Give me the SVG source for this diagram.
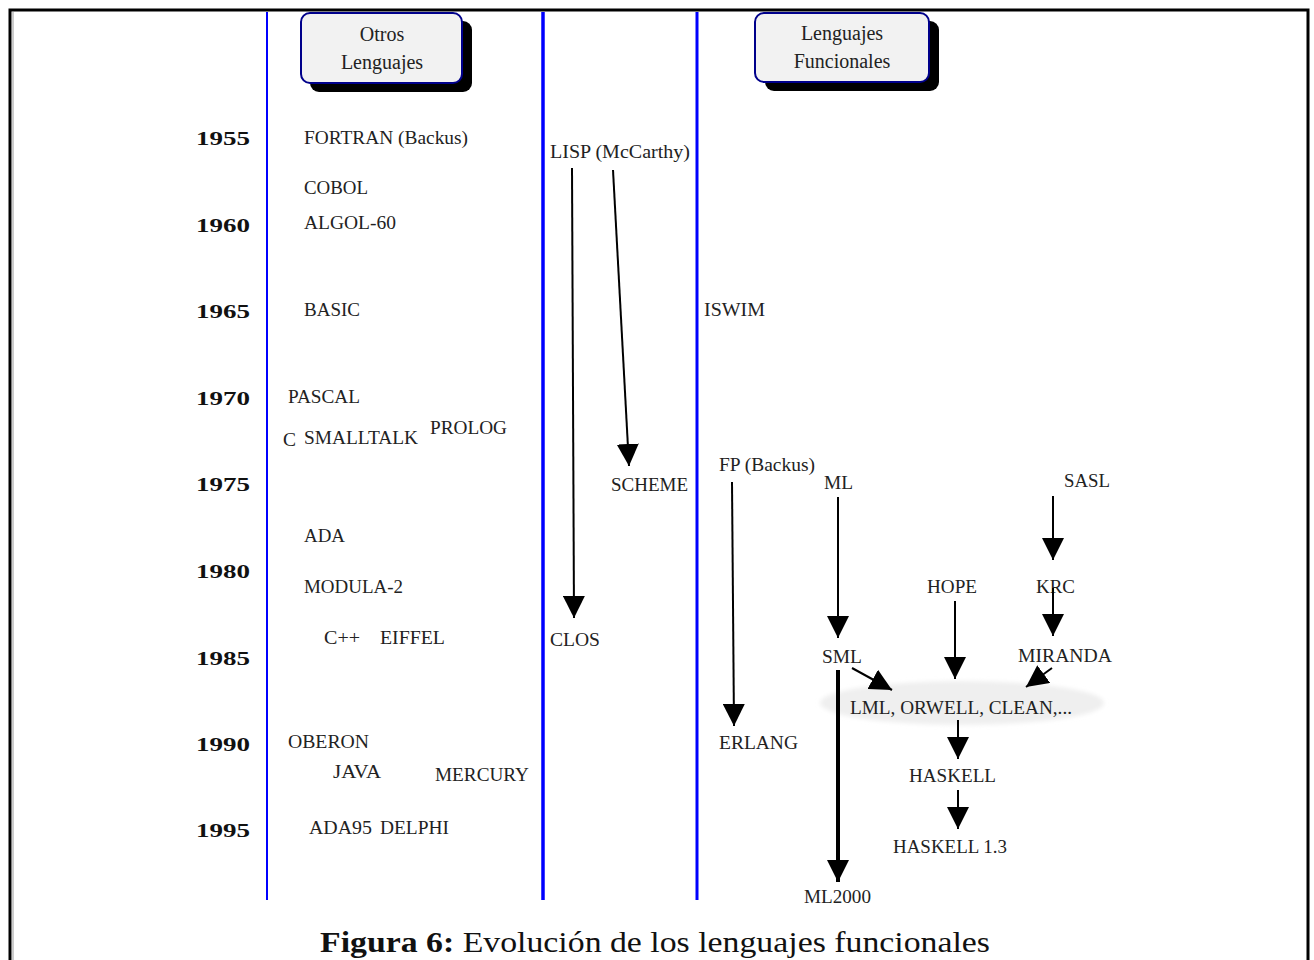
<svg xmlns="http://www.w3.org/2000/svg" width="1314" height="960" viewBox="0 0 1314 960">
<style>
.lbl{font-family:"Liberation Serif","Times New Roman",serif;font-size:18px;fill:#222}
.yr{font-family:"Liberation Serif","Times New Roman",serif;font-size:19px;font-weight:bold;fill:#111}
.hdr{font-family:"Liberation Serif","Times New Roman",serif;font-size:20px;fill:#222;text-anchor:middle}
.cap{font-family:"Liberation Serif","Times New Roman",serif;font-size:30px;fill:#111}
.blue{stroke:#0000ff;fill:none}
.arr{stroke:#000;stroke-width:2;fill:none;marker-end:url(#ah)}
.thick{stroke-width:4}
.box{fill:#f2f2f2;stroke:#00008b;stroke-width:2}
.shadow{fill:#000}
</style>
<defs>
<marker id="ah" viewBox="0 0 22 22" refX="22" refY="11" markerWidth="22" markerHeight="22" markerUnits="userSpaceOnUse" orient="auto">
<path d="M0,0 L22,11 L0,22 z" fill="#000"/>
</marker>
<filter id="blur" x="-10%" y="-50%" width="120%" height="200%"><feGaussianBlur stdDeviation="2"/></filter>
</defs>
<rect width="1314" height="960" fill="#fff"/>
<g id="frame">
<path d="M10,975 L10,10 L1308,10 L1308,975" fill="none" stroke="#000" stroke-width="3"/>
<line x1="13" y1="12" x2="13" y2="975" stroke="#999" stroke-width="1"/>
</g>
<g id="columns">
<line class="blue" x1="267" y1="12" x2="267" y2="900" stroke-width="2"/>
<line class="blue" x1="543" y1="12" x2="543" y2="900" stroke-width="3.5"/>
<line class="blue" x1="697" y1="12" x2="697" y2="900" stroke-width="3"/>
</g>
<g id="hdr-otros">
<rect class="shadow" x="310" y="21" width="162" height="71" rx="9"/>
<rect class="box" x="301" y="13" width="161" height="70" rx="9"/>
<text class="hdr" x="382" y="41">Otros</text>
<text class="hdr" x="382" y="69">Lenguajes</text>
</g>
<g id="hdr-func">
<rect class="shadow" x="765" y="21" width="174" height="70" rx="9"/>
<rect class="box" x="755" y="13" width="174" height="69" rx="9"/>
<text class="hdr" x="842" y="40">Lenguajes</text>
<text class="hdr" x="842" y="68">Funcionales</text>
</g>
<g id="years">
<text class="yr" x="196" y="145" textLength="54" lengthAdjust="spacingAndGlyphs">1955</text>
<text class="yr" x="196" y="232" textLength="54" lengthAdjust="spacingAndGlyphs">1960</text>
<text class="yr" x="196" y="318" textLength="54" lengthAdjust="spacingAndGlyphs">1965</text>
<text class="yr" x="196" y="405" textLength="54" lengthAdjust="spacingAndGlyphs">1970</text>
<text class="yr" x="196" y="491" textLength="54" lengthAdjust="spacingAndGlyphs">1975</text>
<text class="yr" x="196" y="578" textLength="54" lengthAdjust="spacingAndGlyphs">1980</text>
<text class="yr" x="196" y="665" textLength="54" lengthAdjust="spacingAndGlyphs">1985</text>
<text class="yr" x="196" y="751" textLength="54" lengthAdjust="spacingAndGlyphs">1990</text>
<text class="yr" x="196" y="837" textLength="54" lengthAdjust="spacingAndGlyphs">1995</text>
</g>
<g id="otros">
<g id="n-fortran"><text class="lbl" x="304" y="144" textLength="164" lengthAdjust="spacingAndGlyphs">FORTRAN (Backus)</text></g>
<g id="n-cobol"><text class="lbl" x="304" y="194" textLength="64" lengthAdjust="spacingAndGlyphs">COBOL</text></g>
<g id="n-algol"><text class="lbl" x="304" y="229" textLength="92" lengthAdjust="spacingAndGlyphs">ALGOL-60</text></g>
<g id="n-basic"><text class="lbl" x="304" y="316" textLength="56" lengthAdjust="spacingAndGlyphs">BASIC</text></g>
<g id="n-pascal"><text class="lbl" x="288" y="403" textLength="72" lengthAdjust="spacingAndGlyphs">PASCAL</text></g>
<g id="n-c"><text class="lbl" x="283" y="446" textLength="13" lengthAdjust="spacingAndGlyphs">C</text></g>
<g id="n-smalltalk"><text class="lbl" x="304" y="444" textLength="114" lengthAdjust="spacingAndGlyphs">SMALLTALK</text></g>
<g id="n-prolog"><text class="lbl" x="430" y="434" textLength="77" lengthAdjust="spacingAndGlyphs">PROLOG</text></g>
<g id="n-ada"><text class="lbl" x="304" y="542" textLength="41" lengthAdjust="spacingAndGlyphs">ADA</text></g>
<g id="n-modula"><text class="lbl" x="304" y="593" textLength="99" lengthAdjust="spacingAndGlyphs">MODULA-2</text></g>
<g id="n-cpp"><text class="lbl" x="324" y="644" textLength="36" lengthAdjust="spacingAndGlyphs">C++</text></g>
<g id="n-eiffel"><text class="lbl" x="380" y="644" textLength="65" lengthAdjust="spacingAndGlyphs">EIFFEL</text></g>
<g id="n-oberon"><text class="lbl" x="288" y="748" textLength="81" lengthAdjust="spacingAndGlyphs">OBERON</text></g>
<g id="n-java"><text class="lbl" x="333" y="778" textLength="48" lengthAdjust="spacingAndGlyphs">JAVA</text></g>
<g id="n-mercury"><text class="lbl" x="435" y="781" textLength="94" lengthAdjust="spacingAndGlyphs">MERCURY</text></g>
<g id="n-ada95"><text class="lbl" x="309" y="834" textLength="63" lengthAdjust="spacingAndGlyphs">ADA95</text></g>
<g id="n-delphi"><text class="lbl" x="380" y="834" textLength="69" lengthAdjust="spacingAndGlyphs">DELPHI</text></g>
</g>
<g id="lisp-col">
<g id="n-lisp"><text class="lbl" x="550" y="158" textLength="140" lengthAdjust="spacingAndGlyphs">LISP (McCarthy)</text></g>
<g id="n-clos"><text class="lbl" x="550" y="646" textLength="50" lengthAdjust="spacingAndGlyphs">CLOS</text></g>
<g id="n-scheme"><text class="lbl" x="611" y="491" textLength="77" lengthAdjust="spacingAndGlyphs">SCHEME</text></g>
</g>
<g id="func">
<g id="n-iswim"><text class="lbl" x="704" y="316" textLength="61" lengthAdjust="spacingAndGlyphs">ISWIM</text></g>
<g id="n-fp"><text class="lbl" x="719" y="471" textLength="96" lengthAdjust="spacingAndGlyphs">FP (Backus)</text></g>
<g id="n-erlang"><text class="lbl" x="719" y="749" textLength="79" lengthAdjust="spacingAndGlyphs">ERLANG</text></g>
<g id="n-ml"><text class="lbl" x="824" y="489" textLength="29" lengthAdjust="spacingAndGlyphs">ML</text></g>
<g id="n-sasl"><text class="lbl" x="1064" y="487" textLength="46" lengthAdjust="spacingAndGlyphs">SASL</text></g>
<g id="n-hope"><text class="lbl" x="927" y="593" textLength="50" lengthAdjust="spacingAndGlyphs">HOPE</text></g>
<g id="n-krc"><text class="lbl" x="1036" y="593" textLength="39" lengthAdjust="spacingAndGlyphs">KRC</text></g>
<g id="n-sml"><text class="lbl" x="822" y="663" textLength="40" lengthAdjust="spacingAndGlyphs">SML</text></g>
<g id="n-miranda"><text class="lbl" x="1018" y="662" textLength="94" lengthAdjust="spacingAndGlyphs">MIRANDA</text></g>
<g id="n-lml">
<ellipse cx="962" cy="703" rx="142" ry="22" fill="#efefef" filter="url(#blur)"/>
<text class="lbl" x="850" y="714" textLength="222" lengthAdjust="spacingAndGlyphs">LML, ORWELL, CLEAN,...</text>
</g>
<g id="n-haskell"><text class="lbl" x="909" y="782" textLength="87" lengthAdjust="spacingAndGlyphs">HASKELL</text></g>
<g id="n-haskell13"><text class="lbl" x="893" y="853" textLength="114" lengthAdjust="spacingAndGlyphs">HASKELL 1.3</text></g>
<g id="n-ml2000"><text class="lbl" x="804" y="903" textLength="67" lengthAdjust="spacingAndGlyphs">ML2000</text></g>
</g>
<g id="connectors">
<path class="arr" d="M572,168 L574,618"/>
<path class="arr" d="M613,170 L629,466"/>
<path class="arr" d="M732,482 L734,726"/>
<path class="arr" d="M838,497 L838,638"/>
<path class="arr thick" d="M838,670 L838,882"/>
<path class="arr" d="M1053,496 L1053,560"/>
<path class="arr" d="M1053,588 L1053,636"/>
<path class="arr" d="M955,601 L955,679"/>
<path class="arr" d="M852,668 L892,690"/>
<path class="arr" d="M1052,668 L1026,687"/>
<path class="arr" d="M958,720 L958,759"/>
<path class="arr" d="M958,790 L958,829"/>
</g>
<g id="caption">
<text class="cap" x="320" y="952" textLength="670" lengthAdjust="spacingAndGlyphs"><tspan font-weight="bold">Figura 6:</tspan> Evolución de los lenguajes funcionales</text>
</g>
</svg>
